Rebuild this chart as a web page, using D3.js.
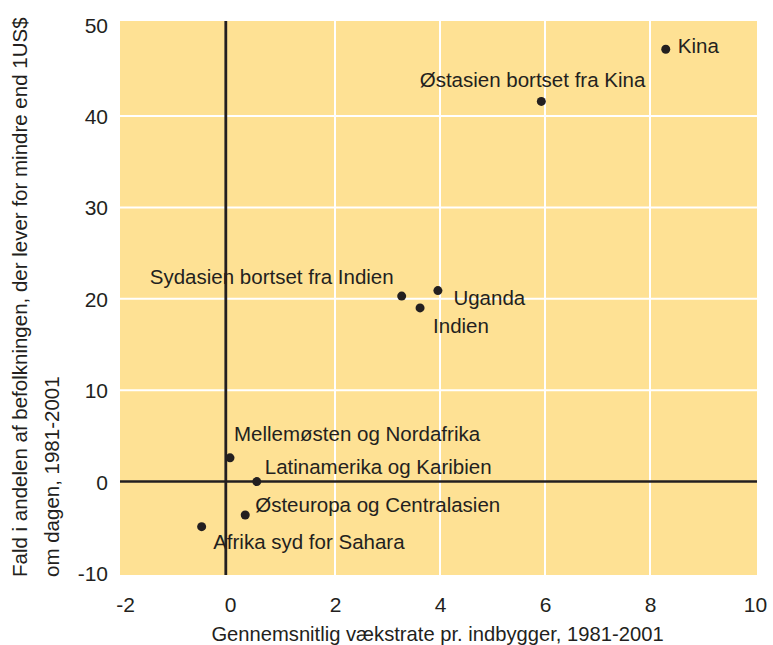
<!DOCTYPE html>
<html>
<head>
<meta charset="utf-8">
<script src="https://cdn.jsdelivr.net/npm/d3@7"></script>
<style>
  html, body { margin: 0; padding: 0; background: #ffffff; }
  svg { display: block; }
  text { font-family: "Liberation Sans", Arial, sans-serif; fill: #231f20; }
</style>
</head>
<body>
<svg id="chart" width="773" height="645"></svg>
<script>
// ---- data ----
const regions = ["Kina", "Østasien bortset fra Kina", "Sydasien bortset fra Indien", "Uganda", "Indien",
  "Mellemøsten og Nordafrika", "Latinamerika og Karibien", "Østeuropa og Centralasien", "Afrika syd for Sahara"];
const growth = [8.3, 5.93, 3.27, 3.96, 3.62, 0.0, 0.51, 0.29, -0.54];
const povertyFall = [47.3, 41.6, 20.3, 20.9, 19.0, 2.6, 0.0, -3.65, -4.93];
const xTicks = [-2, 0, 2, 4, 6, 8, 10];
const yTicks = [-10, 0, 10, 20, 30, 40, 50];
const xTitle = "Gennemsnitlig vækstrate pr. indbygger, 1981-2001";
const yTitleLines = ["Fald i andelen af befolkningen, der lever for mindre end 1US$", "om dagen, 1981-2001"];

// label placement (style): offsets from each point and anchor
const labelDx = [12, 104, -8, 15.5, 13, 4, 8, 10, 11.5];
const labelDy = [3.5, -14.5, -12.5, 14, 25, -17, -7.7, -3.3, 22.6];
const labelAnchor = ["start", "end", "end", "start", "start", "start", "start", "start", "start"];

// ---- layout ----
const svg = d3.select("#chart");
const plot = { left: 120, right: 757, top: 21, bottom: 575 };
const x = d3.scaleLinear().domain([-2, 10]).range([125, 755]);
const y = d3.scaleLinear().domain([-10, 50]).range([573, 24.6]);
const yAxisCross = -0.08;

svg.append("rect")
  .attr("x", plot.left).attr("y", plot.top)
  .attr("width", plot.right - plot.left).attr("height", plot.bottom - plot.top)
  .attr("fill", "#fee194");

// gridlines (white)
const grid = svg.append("g");
grid.selectAll("line.v").data(xTicks.filter(d => d > -2 && d < 10 && d !== 0)).join("line")
  .attr("class", "v")
  .attr("x1", d => x(d)).attr("x2", d => x(d))
  .attr("y1", plot.top).attr("y2", plot.bottom)
  .attr("stroke", "#ffffff").attr("stroke-width", 2);
grid.selectAll("line.h").data(yTicks.filter(d => d > -10 && d < 50 && d !== 0)).join("line")
  .attr("class", "h")
  .attr("x1", plot.left).attr("x2", plot.right)
  .attr("y1", d => y(d)).attr("y2", d => y(d))
  .attr("stroke", "#ffffff").attr("stroke-width", 2);

// point labels
const pts = regions.map((name, i) => ({ name, gx: growth[i], py: povertyFall[i], i }));
svg.append("g").selectAll("text").data(pts).join("text")
  .attr("x", d => x(d.gx) + labelDx[d.i])
  .attr("y", d => y(d.py) + labelDy[d.i])
  .attr("text-anchor", d => labelAnchor[d.i])
  .attr("font-size", 20.5)
  .text(d => d.name);

// zero lines (black)
svg.append("line")
  .attr("x1", plot.left).attr("x2", plot.right)
  .attr("y1", y(0)).attr("y2", y(0))
  .attr("stroke", "#231f20").attr("stroke-width", 2.5);
svg.append("line")
  .attr("x1", x(yAxisCross)).attr("x2", x(yAxisCross))
  .attr("y1", plot.top).attr("y2", plot.bottom)
  .attr("stroke", "#231f20").attr("stroke-width", 2.8);

// points
svg.append("g").selectAll("circle").data(pts).join("circle")
  .attr("cx", d => x(d.gx)).attr("cy", d => y(d.py))
  .attr("r", 4.5).attr("fill", "#231f20");

// axes (tick labels only)
const fmt = d => String(d);
const xAxis = d3.axisBottom(x).tickValues(xTicks).tickSize(0).tickPadding(0).tickFormat(fmt);
const gx = svg.append("g").attr("transform", "translate(0,612)").call(xAxis);
gx.select(".domain").remove();
gx.selectAll("text").attr("font-size", 21).attr("dy", 0).attr("y", 0)
  .style("font-family", '"Liberation Sans", Arial, sans-serif').attr("fill", "#231f20");

const yAxis = d3.axisLeft(y).tickValues(yTicks).tickSize(0).tickPadding(0).tickFormat(fmt);
const gy = svg.append("g").attr("transform", "translate(108,0)").call(yAxis);
gy.select(".domain").remove();
gy.selectAll("text").attr("font-size", 21).attr("x", 0).attr("dy", "0.36em")
  .style("font-family", '"Liberation Sans", Arial, sans-serif').attr("fill", "#231f20");

// titles
svg.append("text")
  .attr("x", 437.5).attr("y", 641)
  .attr("text-anchor", "middle").attr("font-size", 20.2)
  .text(xTitle);

const yT = svg.append("g").attr("transform", "rotate(-90)");
yT.selectAll("text").data(yTitleLines).join("text")
  .attr("x", -577)
  .attr("y", (d, i) => 27 + i * 32)
  .attr("text-anchor", "start")
  .attr("font-size", 20.5)
  .text(d => d);
</script>
</body>
</html>
